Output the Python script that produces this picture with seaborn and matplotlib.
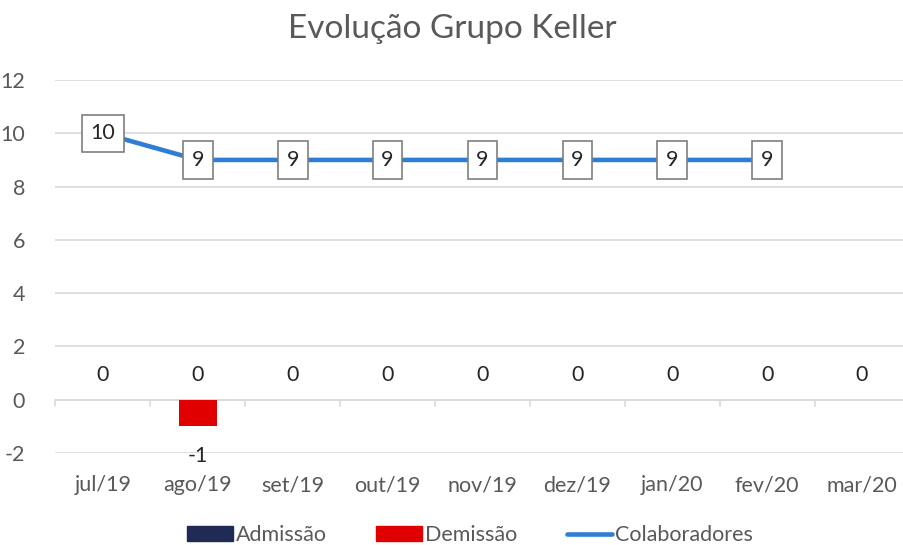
import matplotlib
matplotlib.use("Agg")
import matplotlib.pyplot as plt
from matplotlib.patches import Patch
from matplotlib.lines import Line2D
import numpy as np
import pandas as pd
import seaborn as sns

# dados
meses = ['jul/19', 'ago/19', 'set/19', 'out/19', 'nov/19', 'dez/19', 'jan/20', 'fev/20', 'mar/20']
admissao = [0, 0, 0, 0, 0, 0, 0, 0, 0]
demissao = [0, -1, 0, 0, 0, 0, 0, 0, 0]
colaboradores = [10, 9, 9, 9, 9, 9, 9, 9, np.nan]
y_ticks = [-2, 0, 2, 4, 6, 8, 10, 12]

cor_adm = '#1F2A55'
cor_dem = '#E00000'
cor_col = '#2E7ED6'
cor_txt = '#595959'
cor_grid = '#D9D9D9'

df = pd.DataFrame({'mes': meses, 'pos': range(len(meses)),
                   'Admissão': admissao, 'Demissão': demissao,
                   'Colaboradores': colaboradores})

sns.set_style('white')
plt.rcParams['font.family'] = ['Lato', 'DejaVu Sans']
plt.rcParams['axes.unicode_minus'] = False

fig = plt.figure(figsize=(9.04, 5.45), dpi=100)
ax = fig.add_axes([55.5 / 904, 92 / 545, 854 / 904, 373 / 545])

# barras (sobrepostas, centradas na categoria)
sns.barplot(data=df, x='mes', y='Admissão', color=cor_adm, width=0.4,
            saturation=1, linewidth=0, ax=ax, zorder=2)
sns.barplot(data=df, x='mes', y='Demissão', color=cor_dem, width=0.4,
            saturation=1, linewidth=0, ax=ax, zorder=2)

# linha de colaboradores
sns.lineplot(data=df, x='pos', y='Colaboradores', color=cor_col, lw=3.3,
             ax=ax, zorder=3)

ax.set_xlim(-0.5, len(meses) - 0.5)
ax.set_ylim(-2, 12)
ax.set_yticks(y_ticks)
ax.set_xticks(range(len(meses)))
ax.set_xticklabels(meses)
ax.set_xlabel('')
ax.set_ylabel('')

# grid e eixos
ax.grid(axis='y', color=cor_grid, lw=1.2, zorder=0)
ax.set_axisbelow(True)
for s in ax.spines.values():
    s.set_visible(False)
ax.axhline(0, color=cor_grid, lw=1.2, zorder=1)
for b in np.arange(-0.5, len(meses), 1.0):
    ax.plot([b, b], [0, -0.22], color=cor_grid, lw=1.2, zorder=1, clip_on=False)

ax.tick_params(axis='both', length=0, labelsize=15.5, colors=cor_txt)
ax.tick_params(axis='x', pad=16)
ax.tick_params(axis='y', pad=22)

# rotulos de dados
for i, v in enumerate(admissao):
    ax.annotate(f'{v}', (i, v), xytext=(0, 18), textcoords='offset points',
                ha='center', va='center', fontsize=15.5, color='#262626')
for i, v in enumerate(demissao):
    if v < 0:
        ax.annotate(f'{v}', (i, v), xytext=(0, -21), textcoords='offset points',
                    ha='center', va='center', fontsize=15.5, color='#262626')
for i, v in enumerate(colaboradores):
    if not np.isnan(v):
        ax.text(i, v, f'{int(v)}', ha='center', va='center', fontsize=15.5,
                color='#262626', zorder=5,
                bbox=dict(boxstyle='square,pad=0.4', fc='white', ec='#7F7F7F', lw=1.2))

fig.suptitle('Evolução Grupo Keller', y=0.975, fontsize=24, color=cor_txt)

handles = [Patch(color=cor_adm, label='Admissão'),
           Patch(color=cor_dem, label='Demissão'),
           Line2D([0], [0], color=cor_col, lw=3.3, label='Colaboradores')]
fig.legend(handles=handles, loc='center', bbox_to_anchor=(0.52, 0.018), ncol=3,
           frameon=False, fontsize=15.5, handlelength=2.1, handleheight=0.7,
           handletextpad=0.15, columnspacing=2.3, labelcolor=cor_txt)

fig.savefig('out.png', dpi=100)
